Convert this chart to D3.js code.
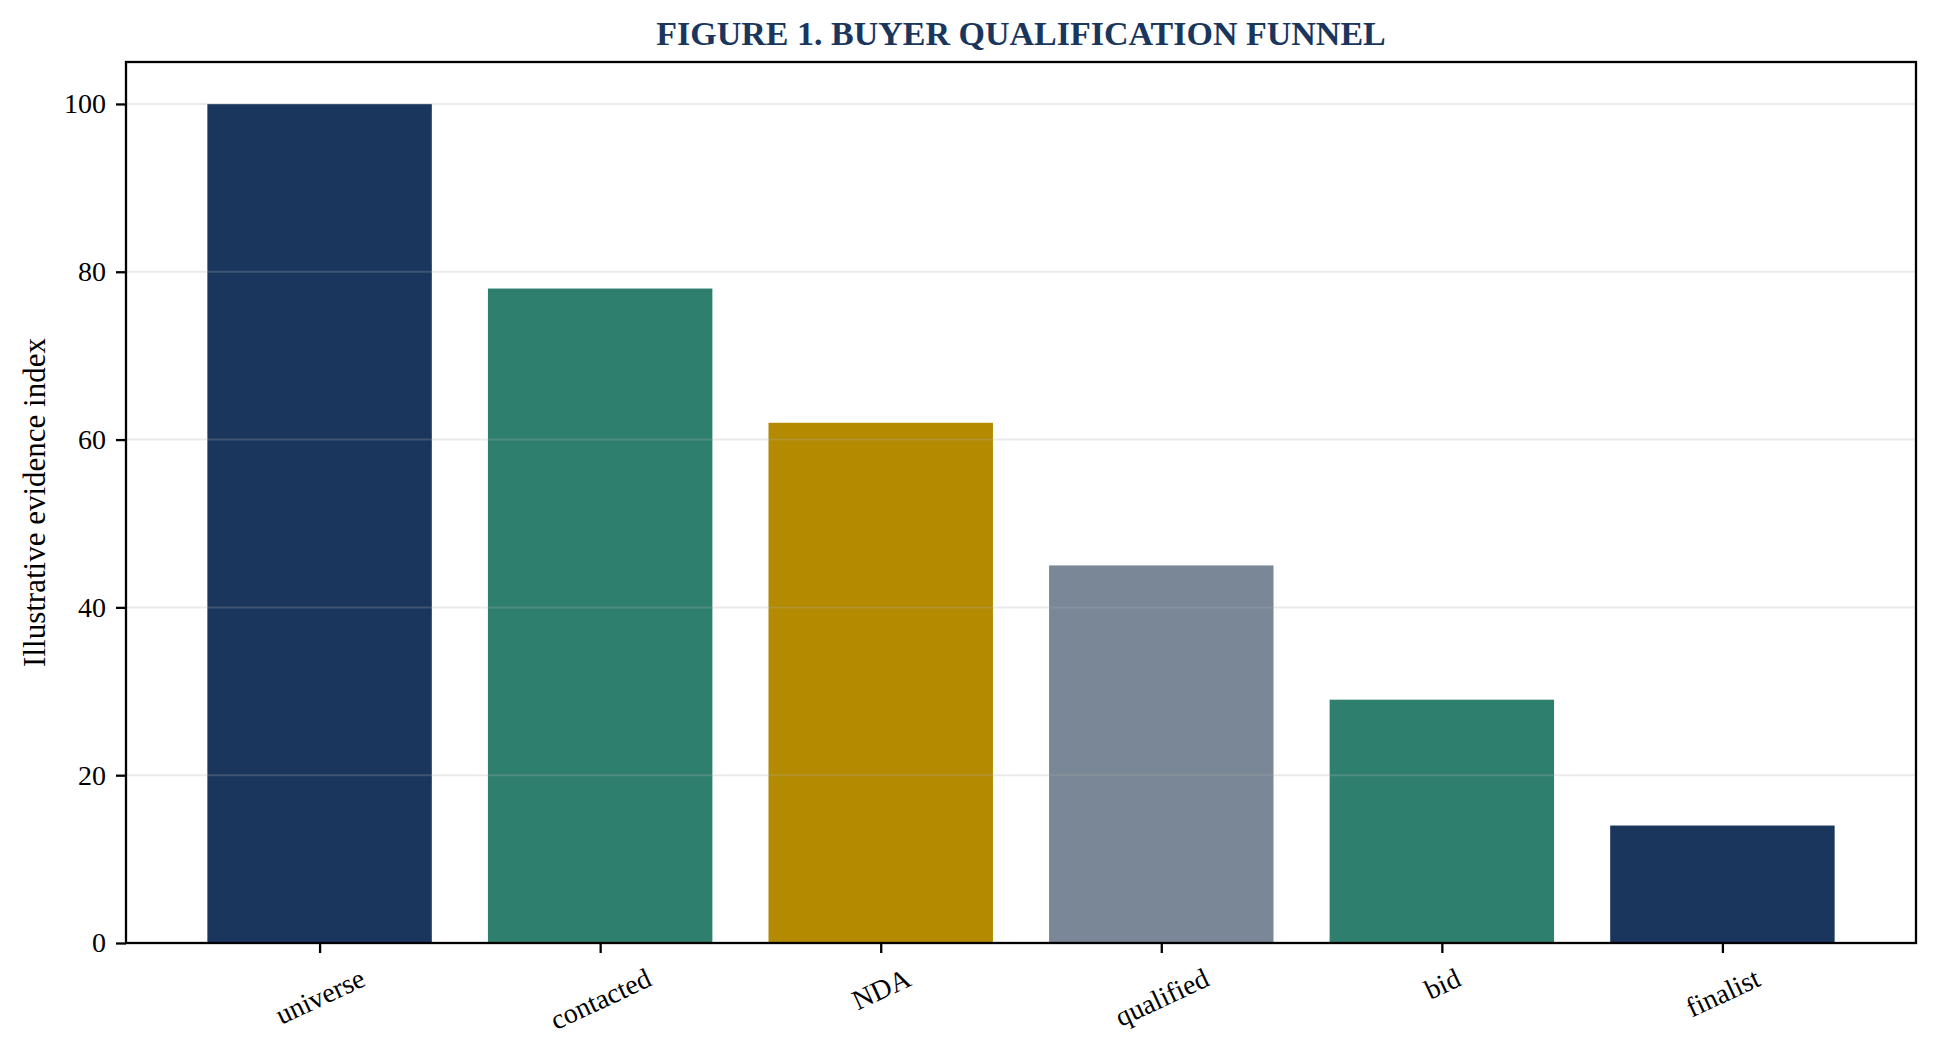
<!DOCTYPE html>
<html><head><meta charset="utf-8">
<script src="https://cdn.jsdelivr.net/npm/d3@7"></script>
<style>body{margin:0;background:#fff} svg{display:block}</style>
</head><body><svg id="c" width="1938" height="1051"></svg>
<script>
const categories = ["universe","contacted","NDA","qualified","bid","finalist"];
const values = [100,78,62,45,29,14];
const barColors = ["#1a365d","#2f7f6f","#b38a00","#7a8797","#2f7f6f","#1a365d"];
const yTicks = [0,20,40,60,80,100];
const titleText = "FIGURE 1. BUYER QUALIFICATION FUNNEL";
const yLabel = "Illustrative evidence index";

const W=1938,H=1051;
const m={l:126,r:22,t:62,b:108};
const FONT='"Liberation Serif","Times New Roman",serif';
const navy="#1a365d";
const svg=d3.select("#c");
svg.append("rect").attr("width",W).attr("height",H).attr("fill","#fff");

const x=d3.scaleLinear().domain([-0.69,categories.length-1+0.69]).range([m.l,W-m.r]);
const y=d3.scaleLinear().domain([0,105]).range([H-m.b,m.t]);
const bw=0.8;

// bars
svg.append("g").selectAll("rect").data(values).join("rect")
  .attr("x",(d,i)=>x(i-bw/2)).attr("width",(d,i)=>x(i+bw/2)-x(i-bw/2))
  .attr("y",d=>y(d)).attr("height",d=>y(0)-y(d))
  .attr("fill",(d,i)=>barColors[i]);

// grid (above bars)
svg.append("g").selectAll("line").data(yTicks).join("line")
  .attr("x1",m.l).attr("x2",W-m.r).attr("y1",d=>y(d)).attr("y2",d=>y(d))
  .attr("stroke","#b0b0b0").attr("stroke-opacity",0.25).attr("stroke-width",2);

// y axis
const ya=svg.append("g").attr("transform",`translate(${m.l},0)`)
  .call(d3.axisLeft(y).tickValues(yTicks).tickSize(10).tickPadding(10));
ya.select(".domain").remove();
ya.selectAll(".tick line").attr("stroke","#000").attr("stroke-width",2.3);
ya.selectAll(".tick text").attr("font-family",FONT).attr("font-size",28).attr("fill","#000");

// x axis
const xa=svg.append("g").attr("transform",`translate(0,${H-m.b})`)
  .call(d3.axisBottom(x).tickValues(d3.range(categories.length)).tickFormat(i=>categories[i]).tickSize(10));
xa.select(".domain").remove();
xa.selectAll(".tick line").attr("stroke","#000").attr("stroke-width",2.3);
const ang=25*Math.PI/180;
xa.selectAll(".tick text").attr("font-family",FONT).attr("font-size",28).attr("fill","#000")
  .attr("text-anchor","middle").attr("dy",null).attr("y",0)
  .attr("dominant-baseline","central")
  .each(function(){
    const w=this.getComputedTextLength();
    const h=28*1.05;
    const rh=w*Math.sin(ang)+h*Math.cos(ang);
    d3.select(this).attr("transform",`translate(0,${20+rh/2}) rotate(-25)`);
  });

// frame
svg.append("rect").attr("x",m.l).attr("y",m.t).attr("width",W-m.l-m.r).attr("height",H-m.t-m.b)
  .attr("fill","none").attr("stroke","#000").attr("stroke-width",2.3);

// title
svg.append("text").attr("x",(m.l+W-m.r)/2).attr("y",45).attr("text-anchor","middle")
  .attr("font-family",FONT).attr("font-size",34).attr("font-weight","bold").attr("fill",navy)
  .text(titleText);

// y label
svg.append("text").attr("transform",`translate(45,${(m.t+H-m.b)/2}) rotate(-90)`)
  .attr("text-anchor","middle").attr("font-family",FONT).attr("font-size",31).attr("fill","#000")
  .text(yLabel);
</script></body></html>
